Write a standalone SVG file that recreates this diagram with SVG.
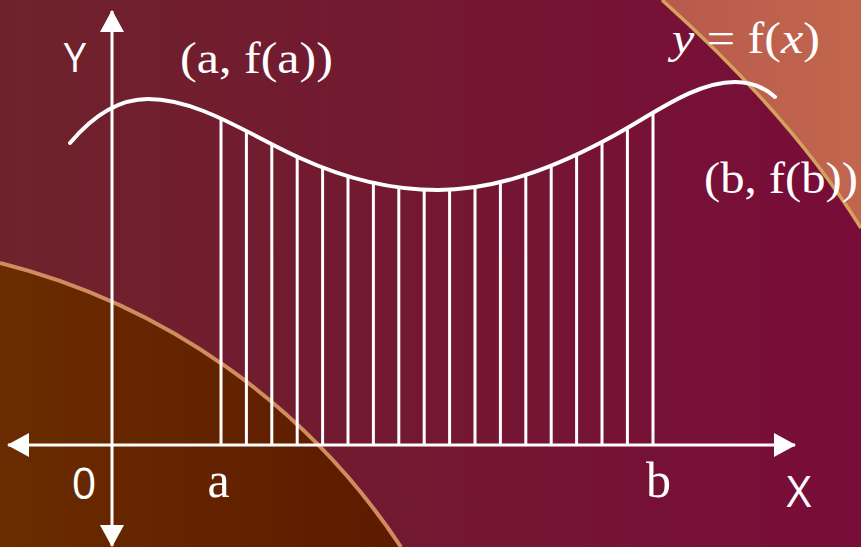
<svg xmlns="http://www.w3.org/2000/svg" width="861" height="547" viewBox="0 0 861 547">
<defs>
<linearGradient id="bg" x1="0" y1="0" x2="1" y2="0">
<stop offset="0" stop-color="#6E232B"/>
<stop offset="1" stop-color="#790C39"/>
</linearGradient>
<linearGradient id="brown" x1="0" y1="0" x2="1" y2="0">
<stop offset="0" stop-color="#6A2C00"/>
<stop offset="1" stop-color="#5D1A00"/>
</linearGradient>
<linearGradient id="corner" x1="0" y1="0" x2="1" y2="0">
<stop offset="0" stop-color="#B85A4C"/>
<stop offset="1" stop-color="#C2664E"/>
</linearGradient>
<clipPath id="under">
<path d="M70,143 C96,112 122,99 148,99 C199,99 249,135 300,158 C346,179 392,190 438,190 C497,190 556,167.5 615,135 C655,113 695,82 735,82 C752,82 765,88 775,97 L775,450 L70,450 Z"/>
</clipPath>
<marker id="ah" viewBox="0 0 22 24" refX="21" refY="12" markerWidth="22" markerHeight="24" markerUnits="userSpaceOnUse" orient="auto">
<path d="M0,0 L22,12 L0,24 Z" fill="#FFFFFF"/>
</marker>
</defs>
<style>
.ln{stroke:#FFFFFF;stroke-width:3;fill:none}
.ax{stroke:#FFFFFF;stroke-width:3;fill:none}
.crv{stroke:#FFFFFF;stroke-width:4;fill:none;stroke-linecap:round}
.sans{font-family:"Open Sans","Noto Sans",sans-serif;font-weight:400;fill:#FFFFFF}
.times{font-family:"Liberation Serif",serif;fill:#FFFFFF}
</style>
<rect id="background" x="0" y="0" width="861" height="547" fill="url(#bg)"/>
<g id="corner-shape">
<path d="M662,0 C720,52 800,130 861,228 L861,0 Z" fill="url(#corner)"/>
<path d="M662,0 C720,52 800,130 861,228" fill="none" stroke="#D3A25E" stroke-width="3.5"/>
</g>
<g id="brown-shape">
<path d="M0,263 A679,679 0 0 1 401,547 L0,547 Z" fill="url(#brown)"/>
<path d="M0,263 A679,679 0 0 1 401,547" fill="none" stroke="#D08C5E" stroke-width="4"/>
</g>
<g id="strips" clip-path="url(#under)">
<path class="ln" d="M221,445V60M246.4,445V60M271.8,445V60M297.2,445V60M322.6,445V60M348,445V60M373.4,445V60M398.8,445V60M424.2,445V60M449.6,445V60M475,445V60M500.4,445V60M525.8,445V60M551.2,445V60M576.6,445V60M602,445V60M627.4,445V60M653,445V60"/>
</g>
<g id="connectors">
<path id="x-axis" class="ax" d="M112,445 L795,445" marker-end="url(#ah)"/>
<path id="x-axis-neg" class="ax" d="M112,445 L8,445" marker-end="url(#ah)"/>
<path id="y-axis" class="ax" d="M112,445 L112,11" marker-end="url(#ah)"/>
<path id="y-axis-neg" class="ax" d="M112,445 L112,546" marker-end="url(#ah)"/>
</g>
<g id="curve">
<path class="crv" d="M70,143 C96,112 122,99 148,99 C199,99 249,135 300,158 C346,179 392,190 438,190 C497,190 556,167.5 615,135 C655,113 695,82 735,82 C752,82 765,88 775,97"/>
</g>
<g id="label-Y"><text class="sans" x="75" y="72" font-size="40" text-anchor="middle">Y</text></g>
<g id="label-X"><text class="sans" x="799" y="507" font-size="43" text-anchor="middle">X</text></g>
<g id="label-0"><text class="sans" x="84" y="499" font-size="43" text-anchor="middle">0</text></g>
<g id="label-a"><text class="times" x="218.5" y="497" font-size="50" text-anchor="middle">a</text></g>
<g id="label-b"><text class="times" x="658.5" y="497" font-size="50" text-anchor="middle">b</text></g>
<g id="label-fa"><text class="times" x="180" y="73" font-size="45" textLength="153" lengthAdjust="spacingAndGlyphs">(a, f(a))</text></g>
<g id="label-fb"><text class="times" x="704" y="193" font-size="45" textLength="154" lengthAdjust="spacingAndGlyphs">(b, f(b))</text></g>
<g id="label-fx"><text class="times" x="672" y="53" font-size="45" textLength="148" lengthAdjust="spacingAndGlyphs"><tspan font-style="italic">y</tspan> = f(<tspan font-style="italic">x</tspan>)</text></g>
</svg>
